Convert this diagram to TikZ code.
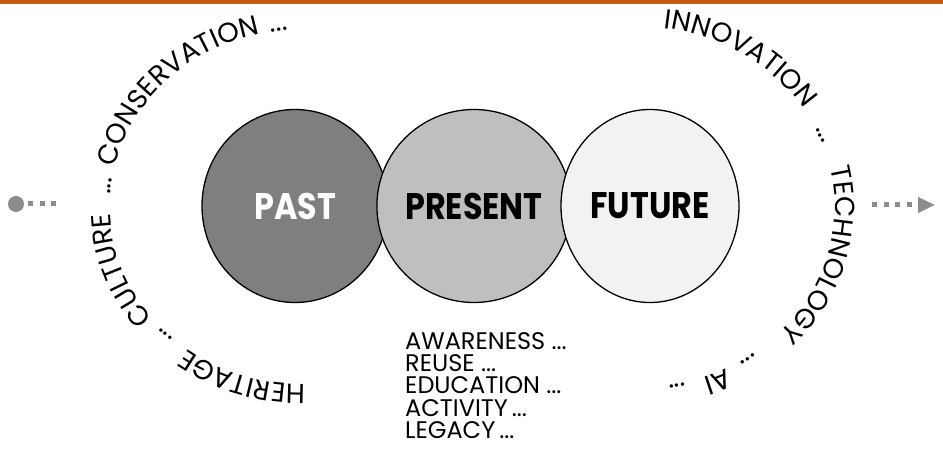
\documentclass[tikz,border=0pt]{standalone}
\usepackage{fontspec}
\setmainfont{Poppins}
\newfontfamily\erafont{Poppins}[FakeStretch=0.86]
\usetikzlibrary{shapes.geometric, arrows.meta, positioning, decorations.text}
\definecolor{barorange}{HTML}{C55A11}
\definecolor{pastgray}{HTML}{7F7F7F}
\definecolor{presentgray}{HTML}{BFBFBF}
\definecolor{futuregray}{HTML}{F2F2F2}
\definecolor{trailgray}{HTML}{8C8C8C}
\newcommand\arcfont{\fontsize{27.5}{27.5}\selectfont}
\newcommand\gapdots{...}
\tikzset{
  era/.style={ellipse, draw=black, line width=1.3pt, minimum width=186pt, minimum height=193pt, inner sep=0pt, font=\erafont\bfseries\fontsize{37}{37}\selectfont},
  theme/.style={decorate, decoration={text along path, text align=center, text/.expanded={|\noexpand\arcfont|#1}}},
  trail/.style={trailgray, line width=5pt, dash pattern=on 5pt off 6.5pt},
  keywords/.style={align=left, inner sep=0pt, font=\fontsize{24}{22.3}\selectfont},
}
\begin{document}
\begin{tikzpicture}[x=1pt, y=1pt]
\useasboundingbox (0,0) rectangle (943,466);
\fill[barorange] (0,462) rectangle (943,466);
% ---- the three eras ----
\node[era, fill=pastgray, text=white] (past) at (295,260) {PAST};
\node[era, fill=presentgray] (present) at (474,260) {PRESENT};
\node[era, fill=futuregray, minimum width=178pt] (future) at (650,260) {FUTURE};
% ---- words round the past ----
\foreach[evaluate=\ang as \angA using \ang+45, evaluate=\ang as \angB using \ang-45] \ang/\word in {-108/HERITAGE, -135.6/\gapdots, -160/CULTURE, -186.5/\gapdots, -225/CONSERVATION, -263.5/\gapdots}
  \path[theme=\word] (300,259) ++(\angA:190pt and 177pt) arc[start angle=\angA, end angle=\angB, x radius=190pt, y radius=177pt];
% ---- words round the future ----
\foreach[evaluate=\ang as \angA using \ang+45, evaluate=\ang as \angB using \ang-45] \ang/\word in {57.3/INNOVATION, 22.4/\gapdots, -15.5/TECHNOLOGY, -55.7/\gapdots, -66.6/AI, -78.6/\gapdots}
  \path[theme=\word] (640,259) ++(\angA:195pt and 180pt) arc[start angle=\angA, end angle=\angB, x radius=195pt, y radius=180pt];
% ---- what the present holds ----
\node[keywords, anchor=north west] (holds) at (405,134) {AWARENESS \gapdots\\REUSE \gapdots\\EDUCATION \gapdots\\ACTIVITY\,\gapdots\\LEGACY\,\gapdots};
% ---- time line ----
\node[circle, fill=trailgray, minimum size=16pt, inner sep=0pt] (origin) at (16,262) {};
\coordinate (lefttail) at (57,262);
\draw[trail] ([xshift=4pt]origin.east) -- (lefttail);
\coordinate (righthead) at (872,261);
\coordinate (arrowtip) at (935,261);
\draw[trail, -{Triangle[length=17pt, width=15pt]}] (righthead) -- (arrowtip);
\end{tikzpicture}
\end{document}
